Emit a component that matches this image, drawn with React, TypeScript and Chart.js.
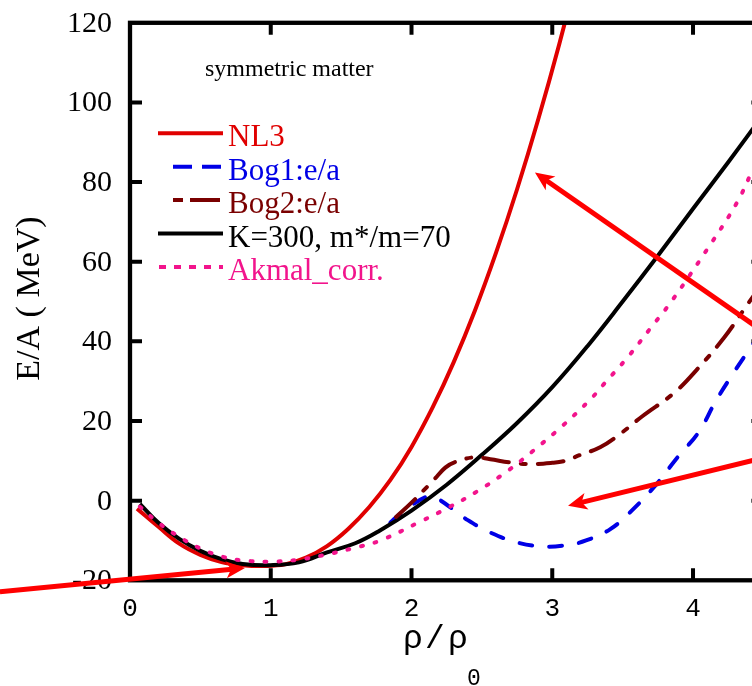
import React, { useEffect, useRef } from "react";
import { Chart, registerables } from "chart.js";

Chart.register(...registerables);

// ---------- axes ----------
const X_MIN = 0;
const X_MAX = 4.5;
const Y_MIN = -20;
const Y_MAX = 120;
const xTicks = [0, 1, 2, 3, 4];
const yTicks = [-20, 0, 20, 40, 60, 80, 100, 120];

// ---------- series ----------
const nl3X = [0.05, 0.2, 0.35, 0.5, 0.65, 0.8, 0.95, 1.1, 1.25, 1.4, 1.55, 1.7, 1.85, 2.0, 2.15, 2.3, 2.45, 2.6, 2.75, 2.9, 3.05, 3.2];
const nl3Y = [-2, -6.5, -10.8, -13.6, -15.4, -16.2, -16.4, -16.0, -14.3, -11.4, -7.1, -1.6, 5.2, 13.5, 23.4, 34.8, 47.7, 62.2, 78.2, 95.7, 114.7, 135.3];

const bog1X = [1.85, 1.88, 2.0, 2.1, 2.15, 2.2, 2.3, 2.4, 2.56, 2.75, 2.93, 3.1, 3.24, 3.41, 3.55, 3.73, 3.89, 4.04, 4.16, 4.29, 4.41, 4.5];
const bog1Y = [-5.5, -4.5, -1.2, 0.9, 1.0, 0.2, -2.3, -4.9, -8, -10.5, -11.5, -11.2, -10, -7.2, -3, 3.7, 10.9, 17.2, 24.9, 32.2, 38.5, 43];

const bog2X = [1.89, 2.0, 2.155, 2.24, 2.31, 2.45, 2.56, 2.7, 2.84, 3.0, 3.09, 3.2, 3.34, 3.48, 3.64, 3.87, 4.04, 4.22, 4.36, 4.5];
const bog2Y = [-4.1, -0.5, 5.1, 8.3, 9.7, 10.9, 10.4, 9.6, 9.2, 9.5, 10, 11.5, 13.4, 16.7, 21.2, 27.2, 33.4, 40.9, 47.9, 55];

const kX = [0.07, 0.2, 0.35, 0.5, 0.65, 0.8, 1.0, 1.2, 1.4, 1.6, 1.77, 2.0, 2.25, 2.5, 2.75, 3.0, 3.25, 3.5, 3.75, 4.0, 4.25, 4.5];
const kY = [-0.8, -5.5, -9.6, -12.6, -14.7, -15.9, -16.2, -15.5, -13.0, -10.7, -7.6, -2.5, 4, 11.5, 19.5, 28.5, 38.8, 50, 61.5, 73.3, 85, 97];

const akX = [0.07, 0.2, 0.35, 0.5, 0.65, 0.8, 1.0, 1.2, 1.4, 1.6, 1.78, 2.06, 2.27, 2.47, 2.68, 2.86, 3.07, 3.27, 3.37, 3.54, 3.7, 3.85, 4.13, 4.31, 4.41, 4.5];
const akY = [-1.5, -5.5, -9.1, -12, -14, -15, -15.3, -14.8, -13.5, -11.8, -10, -5.3, -1.6, 2.4, 7.4, 12.4, 18.7, 25.4, 29.4, 36.2, 43.4, 50.2, 64.7, 74.7, 82, 89];

const seriesLabels = ["NL3", "Bog1:e/a", "Bog2:e/a", "K=300, m*/m=70", "Akmal_corr."];
const annotationText = "symmetric matter";
const yTitle = "E/A ( MeV)";
const xTitleChars = ["ρ", "/", "ρ"];
const xTitleSub = "0";

// arrows in data units: [x, y]
const arrowsFrom = [
  [-0.924, -22.85],
  [4.9, 32.6],
  [4.9, 14.2],
];
const arrowsTo = [
  [0.817, -16.9],
  [2.877, 82.4],
  [3.112, -1.26],
];

const COLORS = {
  nl3: "#e00000",
  bog1: "#0000e6",
  bog2: "#7a0000",
  k: "#000000",
  ak: "#f2148c",
  arrow: "#ff0000",
};

const toPts = (xs: number[], ys: number[]) => xs.map((x, i) => ({ x, y: ys[i] }));

const CANVAS_W = 800;
const CANVAS_H = 686;

function drawArrow(ctx: CanvasRenderingContext2D, x1: number, y1: number, x2: number, y2: number) {
  const ang = Math.atan2(y2 - y1, x2 - x1);
  const c = Math.cos(ang);
  const s = Math.sin(ang);
  const hl = 19;
  const hw = 8.5;
  const bx = x2 - hl * c;
  const by = y2 - hl * s;
  ctx.beginPath();
  ctx.moveTo(x1, y1);
  ctx.lineTo(bx + 6 * c, by + 6 * s);
  ctx.stroke();
  ctx.beginPath();
  ctx.moveTo(x2, y2);
  ctx.lineTo(bx - hw * s, by + hw * c);
  ctx.lineTo(bx + 5 * c, by + 5 * s);
  ctx.lineTo(bx + hw * s, by - hw * c);
  ctx.closePath();
  ctx.fill();
}

const decorPlugin = {
  id: "decor",
  afterDatasetsDraw(chart: any) {
    const { ctx, chartArea: ca, scales } = chart;
    const xs = scales.x;
    const ys = scales.y;
    ctx.save();

    // frame
    ctx.strokeStyle = "#000";
    ctx.lineWidth = 4.3;
    ctx.lineJoin = "miter";
    ctx.strokeRect(ca.left, ca.top, ca.right - ca.left, ca.bottom - ca.top);

    // inward ticks
    ctx.lineWidth = 4;
    ctx.lineCap = "butt";
    const tl = 12;
    for (const v of xTicks) {
      if (v === X_MIN) continue;
      const px = xs.getPixelForValue(v);
      ctx.beginPath();
      ctx.moveTo(px, ca.bottom);
      ctx.lineTo(px, ca.bottom - tl);
      ctx.moveTo(px, ca.top);
      ctx.lineTo(px, ca.top + tl);
      ctx.stroke();
    }
    for (const v of yTicks) {
      if (v === Y_MIN || v === Y_MAX) continue;
      const py = ys.getPixelForValue(v);
      ctx.beginPath();
      ctx.moveTo(ca.left, py);
      ctx.lineTo(ca.left + tl, py);
      ctx.moveTo(ca.right, py);
      ctx.lineTo(ca.right - tl, py);
      ctx.stroke();
    }

    // tick labels
    ctx.fillStyle = "#000";
    ctx.font = "30px 'Liberation Serif'";
    ctx.textAlign = "right";
    ctx.textBaseline = "middle";
    for (const v of yTicks) {
      ctx.fillText(String(v), ca.left - 18, ys.getPixelForValue(v) + 1);
    }
    ctx.font = "26px 'Liberation Mono'";
    ctx.textAlign = "center";
    for (const v of xTicks) {
      ctx.fillText(String(v), xs.getPixelForValue(v), ca.bottom + 29);
    }

    // axis titles
    ctx.save();
    ctx.font = "34px 'Liberation Serif'";
    ctx.textAlign = "center";
    ctx.textBaseline = "middle";
    ctx.translate(30, (ca.top + ca.bottom) / 2 - 3);
    ctx.rotate(-Math.PI / 2);
    ctx.fillText(yTitle, 0, 0);
    ctx.restore();

    ctx.textAlign = "center";
    ctx.textBaseline = "alphabetic";
    ctx.font = "33px 'Liberation Mono'";
    const charCenters = [413, 435, 458];
    for (let i = 0; i < xTitleChars.length; i++) {
      ctx.fillText(xTitleChars[i], charCenters[i], 648);
    }
    ctx.font = "23px 'Liberation Mono'";
    ctx.fillText(xTitleSub, 474, 685);

    // annotation
    ctx.textAlign = "left";
    ctx.font = "24px 'Liberation Serif'";
    ctx.fillText(annotationText, 205, 76);

    // legend
    const colors = [COLORS.nl3, COLORS.bog1, COLORS.bog2, COLORS.k, COLORS.ak];
    const dashes = [[], [19, 10], [10, 7, 30, 8], [], [7, 8]];
    const starts = [158, 173, 173, 158, 159];
    const ends = [223, 221, 221, 223, 223];
    ctx.font = "31px 'Liberation Serif'";
    for (let i = 0; i < seriesLabels.length; i++) {
      const ly = 133.3 + i * 33.4;
      ctx.strokeStyle = colors[i];
      ctx.lineWidth = 4;
      ctx.setLineDash(dashes[i]);
      ctx.beginPath();
      ctx.moveTo(starts[i], ly);
      ctx.lineTo(ends[i], ly);
      ctx.stroke();
      ctx.setLineDash([]);
      ctx.fillStyle = colors[i];
      ctx.fillText(seriesLabels[i], 228, ly + 13);
    }

    // arrows
    ctx.strokeStyle = COLORS.arrow;
    ctx.fillStyle = COLORS.arrow;
    ctx.lineWidth = 5;
    for (let i = 0; i < arrowsFrom.length; i++) {
      drawArrow(
        ctx,
        xs.getPixelForValue(arrowsFrom[i][0]),
        ys.getPixelForValue(arrowsFrom[i][1]),
        xs.getPixelForValue(arrowsTo[i][0]),
        ys.getPixelForValue(arrowsTo[i][1])
      );
    }
    ctx.restore();
  },
};

export default function App() {
  const ref = useRef<HTMLCanvasElement | null>(null);
  useEffect(() => {
    if (!ref.current) return;
    const common = {
      fill: false,
      pointRadius: 0,
      borderWidth: 4,
      tension: 0.4,
    };
    const chart = new Chart(ref.current, {
      type: "line",
      data: {
        datasets: [
          { ...common, label: seriesLabels[0], data: toPts(nl3X, nl3Y), borderColor: COLORS.nl3, order: 5 },
          { ...common, label: seriesLabels[1], data: toPts(bog1X, bog1Y), borderColor: COLORS.bog1, borderDash: [13, 17], borderCapStyle: "round", order: 4 },
          { ...common, label: seriesLabels[2], data: toPts(bog2X, bog2Y), borderColor: COLORS.bog2, borderDash: [26, 12, 5, 12], borderCapStyle: "round", order: 2 },
          { ...common, label: seriesLabels[3], data: toPts(kX, kY), borderColor: COLORS.k, order: 3 },
          { ...common, label: seriesLabels[4], data: toPts(akX, akY), borderColor: COLORS.ak, borderDash: [2, 12], borderCapStyle: "round", order: 1 },
        ],
      },
      options: {
        responsive: false,
        maintainAspectRatio: false,
        animation: false,
        layout: { padding: { left: 130, right: CANVAS_W - 763.4, top: 22.8, bottom: CANVAS_H - 580.3 } },
        plugins: { legend: { display: false }, tooltip: { enabled: false } },
        scales: {
          x: { type: "linear", min: X_MIN, max: X_MAX, display: false },
          y: { type: "linear", min: Y_MIN, max: Y_MAX, display: false },
        },
      },
      plugins: [decorPlugin],
    });
    return () => chart.destroy();
  }, []);
  return (
    <div style={{ position: "fixed", left: 0, top: 0, width: 752, height: 686, overflow: "hidden", background: "#fff" }}>
      <canvas ref={ref} width={CANVAS_W} height={CANVAS_H} style={{ width: CANVAS_W, height: CANVAS_H, display: "block" }} />
    </div>
  );
}
